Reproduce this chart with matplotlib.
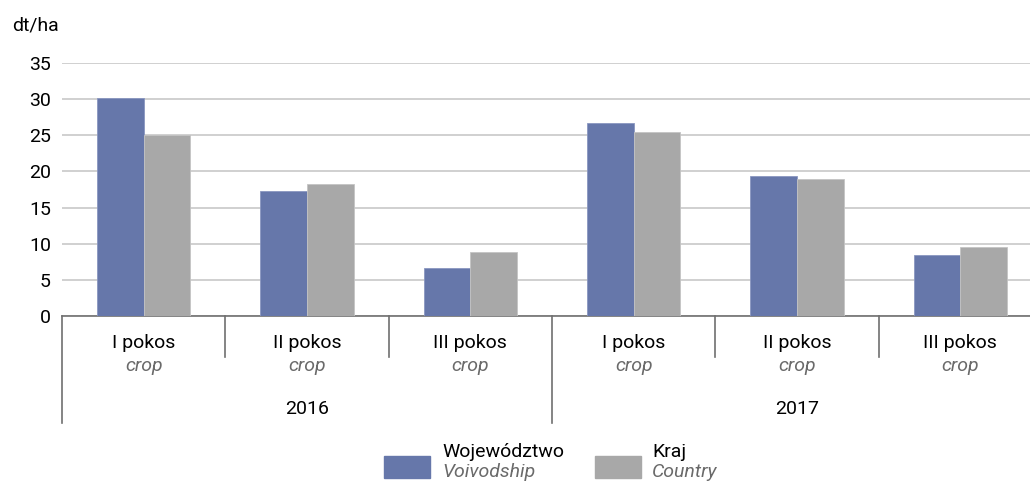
import matplotlib
matplotlib.use("Agg")
import matplotlib.pyplot as plt
from matplotlib.patches import Rectangle
import numpy as np

plt.rcParams['font.family'] = ['Liberation Sans Narrow', 'Roboto', 'DejaVu Sans']

# dane
years = ["2016", "2017"]
cuts = ["I pokos", "II pokos", "III pokos"]
cuts_en = "crop"
voivodship = [30.1, 17.3, 6.7, 26.7, 19.4, 8.4]
country = [25.0, 18.2, 8.9, 25.5, 19.0, 9.5]

blue = "#6677aa"
grey = "#a8a8a8"
grid_c = "#c8c8c8"
line_c = "#707070"

W, H = 1030, 487
fig = plt.figure(figsize=(W / 100, H / 100), dpi=100)
# oś: od x=62 do 1042 px (prawy koniec ucięty), od y=63 do 316 px
ax = fig.add_axes([62 / W, (H - 316) / H, 980 / W, 253 / H])

x = np.arange(len(voivodship))
bw = 0.285
ax.bar(x - bw / 2, voivodship, bw, color=blue, edgecolor="#8a97c0", linewidth=0.6, zorder=3)
ax.bar(x + bw / 2, country, bw, color=grey, edgecolor="#c4c4c4", linewidth=0.6, zorder=3)

ax.set_xlim(-0.5, len(x) - 0.5)
ax.set_ylim(0, 35)
ax.set_yticks(range(0, 36, 5))
ax.yaxis.grid(True, color=grid_c, linewidth=1.2)
ax.set_axisbelow(True)
for s in ["left", "right", "top"]:
    ax.spines[s].set_visible(False)
ax.spines["bottom"].set_color(line_c)
ax.spines["bottom"].set_linewidth(1.2)
ax.tick_params(axis="y", length=0, labelsize=14, pad=8)
ax.tick_params(axis="x", length=0, labelbottom=False)

trans = ax.get_xaxis_transform()
# kreski między pokosami i latami
for b in [0.5, 1.5, 3.5, 4.5]:
    ax.plot([b, b], [0, -41 / 253], color=line_c, linewidth=1.2, transform=trans, clip_on=False)
for b in [-0.5, 2.5, 5.5]:
    ax.plot([b, b], [0, -107 / 253], color=line_c, linewidth=1.2, transform=trans, clip_on=False)

for i in range(len(x)):
    ax.text(i, -27 / 253, cuts[i % 3], ha="center", va="center", fontsize=14, transform=trans)
    ax.text(i, -50 / 253, cuts_en, ha="center", va="center", fontsize=14, style="italic",
            color="#6a6a6a", transform=trans)
for j, yr in enumerate(years):
    ax.text(3 * j + 1, -93 / 253, yr, ha="center", va="center", fontsize=14, transform=trans)

fig.text(12 / W, 1 - 25 / H, "dt/ha", ha="left", va="center", fontsize=14)

# legenda
fig.add_artist(Rectangle((384 / W, 1 - 478 / H), 46 / W, 22 / H, color=blue, transform=fig.transFigure))
fig.text(442 / W, 1 - 452 / H, "Województwo", ha="left", va="center", fontsize=14)
fig.text(442 / W, 1 - 472 / H, "Voivodship", ha="left", va="center", fontsize=14, style="italic", color="#6a6a6a")
fig.add_artist(Rectangle((595 / W, 1 - 478 / H), 46 / W, 22 / H, color=grey, transform=fig.transFigure))
fig.text(652 / W, 1 - 452 / H, "Kraj", ha="left", va="center", fontsize=14)
fig.text(652 / W, 1 - 472 / H, "Country", ha="left", va="center", fontsize=14, style="italic", color="#6a6a6a")

fig.savefig("out.png", dpi=100)
